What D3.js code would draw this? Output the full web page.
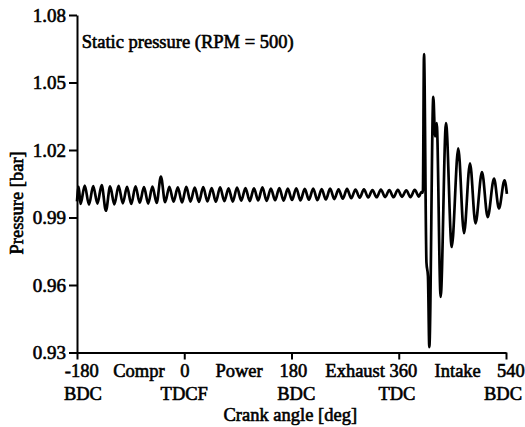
<!DOCTYPE html>
<html><head><meta charset="utf-8">
<script src="https://cdn.jsdelivr.net/npm/d3@7"></script>
<style>
html,body{margin:0;padding:0;background:#fff;}
svg{display:block;}
text{font-family:"Liberation Serif","Times New Roman",serif;font-weight:normal;fill:#000;stroke:#000;stroke-width:0.6px;}
</style></head>
<body>
<script>
// ---- data ----
const crankAngle = [
-180.0,-177.2,-174.1,-167.0,-159.9,-152.8,-145.7,-138.6,-131.5,-124.4,
-117.3,-110.2,-103.1,-96.0,-88.9,-81.8,-74.7,-67.6,-60.5,-53.4,
-46.3,-39.2,-32.1,-25.0,-17.9,-10.8,-3.7,3.4,10.5,17.6,
24.7,31.8,38.9,46.0,53.1,60.2,67.3,74.4,81.5,88.6,
95.7,102.8,109.9,117.0,124.1,131.2,138.3,145.4,152.5,159.6,
166.7,173.8,180.9,188.0,195.1,202.2,209.3,216.4,223.5,230.6,
237.7,244.8,251.9,259.0,266.1,273.2,280.3,287.4,294.5,301.6,
308.7,315.8,322.9,330.0,337.1,344.2,351.3,358.4,365.5,372.6,
379.7,386.8,393.9,398.0,400.5,402.4,406.5,409.0,411.3,418.0,
421.0,423.7,430.3,439.3,448.9,459.9,469.5,479.6,488.8,499.7,
509.3,519.9,528.2,537.5,541.5
];
const pressure = [
0.9972,1.0036,0.9960,1.0042,0.9957,1.0040,0.9962,1.0044,0.9930,1.0038,
0.9958,1.0041,0.9963,1.0036,0.9960,1.0039,0.9966,1.0035,0.9962,1.0037,
0.9965,1.0082,0.9968,1.0036,0.9970,1.0034,0.9967,1.0036,0.9971,1.0033,
0.9969,1.0035,0.9972,1.0031,0.9970,1.0034,0.9973,1.0030,0.9971,1.0033,
0.9975,1.0031,0.9973,1.0030,0.9976,1.0034,0.9974,1.0029,0.9977,1.0031,
0.9975,1.0028,0.9978,1.0030,0.9976,1.0027,0.9979,1.0029,0.9977,1.0026,
0.9980,1.0028,0.9982,1.0025,0.9984,1.0027,0.9986,1.0024,0.9988,1.0025,
0.9989,1.0022,0.9990,1.0024,0.9991,1.0022,0.9990,1.0023,0.9992,1.0021,
0.9991,1.0023,0.9993,1.0013,1.0010,1.0626,0.9700,0.9640,0.9324,1.0436,
1.0260,1.0320,0.9547,1.0320,0.9769,1.0207,0.9830,1.0141,0.9874,1.0102,
0.9902,1.0073,0.9940,1.0065,1.0005
];
const yTicks = [0.93, 0.96, 0.99, 1.02, 1.05, 1.08];
const xTicks = [-180, 0, 180, 360, 540];
// label text with the crank angle where it is centred
const xRow1Labels = ["-180", "Compr", "0", "Power", "180", "Exhaust 360", "Intake", "540"];
const xRow1At     = [-172, -76, 1, 92, 183, 314, 459, 548];
const xRow2Labels = ["BDC", "TDCF", "BDC", "TDC", "BDC"];
const xRow2At     = [-170, 0, 188, 357, 535];
const titleText = "Static pressure (RPM = 500)";
const xTitle = "Crank angle [deg]";
const yTitle = "Pressure [bar]";

// ---- chart ----
const W = 525, H = 427;
const svg = d3.select("body").append("svg").attr("width", W).attr("height", H);
svg.append("rect").attr("width", W).attr("height", H).attr("fill", "#fff");

const x = d3.scaleLinear().domain([-180, 540]).range([77, 506]);
const y = d3.scaleLinear().domain([0.93, 1.08]).range([352.5, 15]);

const fs = 18.5;

// data line
const pts = crankAngle.map((a, i) => [a, pressure[i]]);
svg.append("path")
  .datum(pts)
  .attr("fill", "none")
  .attr("stroke", "#000")
  .attr("stroke-width", 2.7)
  .attr("stroke-linejoin", "round")
  .attr("d", d3.line().x(d => x(d[0])).y(d => y(d[1])).curve(d3.curveMonotoneX));

// y axis
const gy = svg.append("g").attr("transform", `translate(${x(-180)},0)`)
  .call(d3.axisLeft(y).tickValues(yTicks).tickFormat(d3.format(".2f")).tickSize(8).tickSizeOuter(0).tickPadding(3));
// x axis
const gx = svg.append("g").attr("transform", `translate(0,${y(0.93)})`)
  .call(d3.axisBottom(x).tickValues(xTicks).tickFormat("").tickSize(7).tickSizeOuter(0));

[gy, gx].forEach(g => {
  g.select(".domain").attr("stroke", "#000").attr("stroke-width", 2);
  g.selectAll(".tick line").attr("stroke", "#000").attr("stroke-width", 2);
});
gy.selectAll(".tick text").attr("font-size", 19).attr("font-family", "Liberation Serif").attr("fill", "#000");

// x labels
const base = y(0.93);
svg.append("g").selectAll("text").data(xRow1Labels).join("text")
  .attr("x", (d, i) => x(xRow1At[i])).attr("y", base + 24.5)
  .attr("text-anchor", "middle").attr("font-size", fs).text(d => d);
svg.append("g").selectAll("text").data(xRow2Labels).join("text")
  .attr("x", (d, i) => x(xRow2At[i])).attr("y", base + 47.5)
  .attr("text-anchor", "middle").attr("font-size", fs).text(d => d);
svg.append("text").attr("x", x(178)).attr("y", base + 68)
  .attr("text-anchor", "middle").attr("font-size", fs).text(xTitle);

// y title
svg.append("text").attr("transform", `translate(23,${y(0.9965)}) rotate(-90)`)
  .attr("text-anchor", "middle").attr("font-size", fs).text(yTitle);

// inside title
svg.append("text").attr("x", x(-172)).attr("y", y(1.0655))
  .attr("font-size", fs).text(titleText);
</script>
</body></html>
